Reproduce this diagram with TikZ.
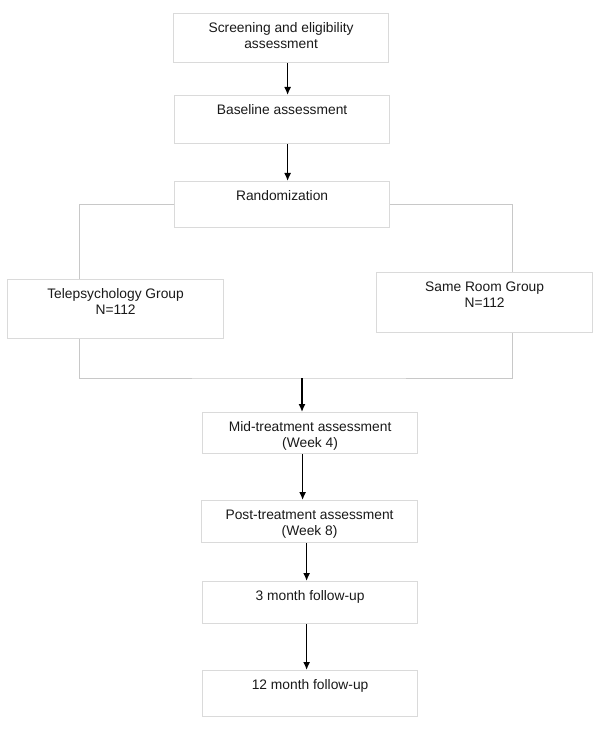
\documentclass[tikz,border=0pt]{standalone}
\usepackage{fontspec}
\setmainfont{Liberation Sans}
\usetikzlibrary{arrows.meta}

\definecolor{boxline}{RGB}{218,218,218}
\definecolor{linkline}{RGB}{200,200,200}
\definecolor{inktext}{RGB}{25,25,25}

\newcommand{\stagetext}[2]{\parbox[t][#1][t]{205pt}{\centering #2}}

\tikzset{
  stage/.style={draw=boxline, line width=1.2pt, anchor=north west,
    inner xsep=0pt, inner ysep=9pt, minimum width=215pt,
    text=inktext, font=\fontsize{13.8}{16}\selectfont},
  link/.style={draw=linkline, line width=1pt},
  arr/.style={draw=black, line width=1.4pt, -{Latex[length=8pt,width=7pt]}}
}

\begin{document}
\begin{tikzpicture}[x=1pt,y=-1pt]
    \useasboundingbox (0,0) rectangle (600,730);
    \node[stage] (screen) at (173,13) {\stagetext{31pt}{Screening and eligibility\\assessment}};
    \node[stage] (base) at (174,95) {\stagetext{30pt}{Baseline assessment}};
    \node[stage] (rand) at (174,181) {\stagetext{28pt}{Randomization}};
    \node[stage, minimum width=216pt] (tele) at (7,279) {\stagetext{41pt}{Telepsychology Group\\N=112}};
    \node[stage, minimum width=216pt] (same) at (376,272) {\stagetext{42pt}{Same Room Group\\N=112}};
    \node[stage] (mid) at (202,412) {\stagetext{23pt}{Mid-treatment assessment\\(Week 4)}};
    \node[stage, minimum width=216pt] (post) at (201,500) {\stagetext{24pt}{Post-treatment assessment\\(Week 8)}};
    \node[stage] (three) at (202,581) {\stagetext{24pt}{3 month follow-up}};
    \node[stage] (twelve) at (202,670) {\stagetext{28pt}{12 month follow-up}};
    \coordinate (merge) at (302,378);

    % first steps
    \draw[arr] ([xshift=6.5pt]screen.south) -- ([xshift=6.5pt]screen.south |- base.north);
    \draw[arr] ([xshift=5.5pt]base.south) -- ([xshift=5.5pt]base.south |- rand.north);
    % split into the two groups
    \draw[link] (rand.west) -| ([xshift=-36pt]tele.north);
    \draw[link] (rand.east) -| ([xshift=28pt]same.north);
    \draw[link] ([xshift=-36pt]tele.south) |- (merge) -| ([xshift=28pt]same.south);
    % follow-up steps
    \draw[arr] (merge) -- (mid.north -| merge);
    \draw[arr] ([xshift=-7.5pt]mid.south) -- ([xshift=-7.5pt]mid.south |- post.north);
    \draw[arr] ([xshift=-3pt]post.south) -- ([xshift=-3pt]post.south |- three.north);
    \draw[arr] ([xshift=-3.5pt]three.south) -- ([xshift=-3.5pt]three.south |- twelve.north);
\end{tikzpicture}
\end{document}
